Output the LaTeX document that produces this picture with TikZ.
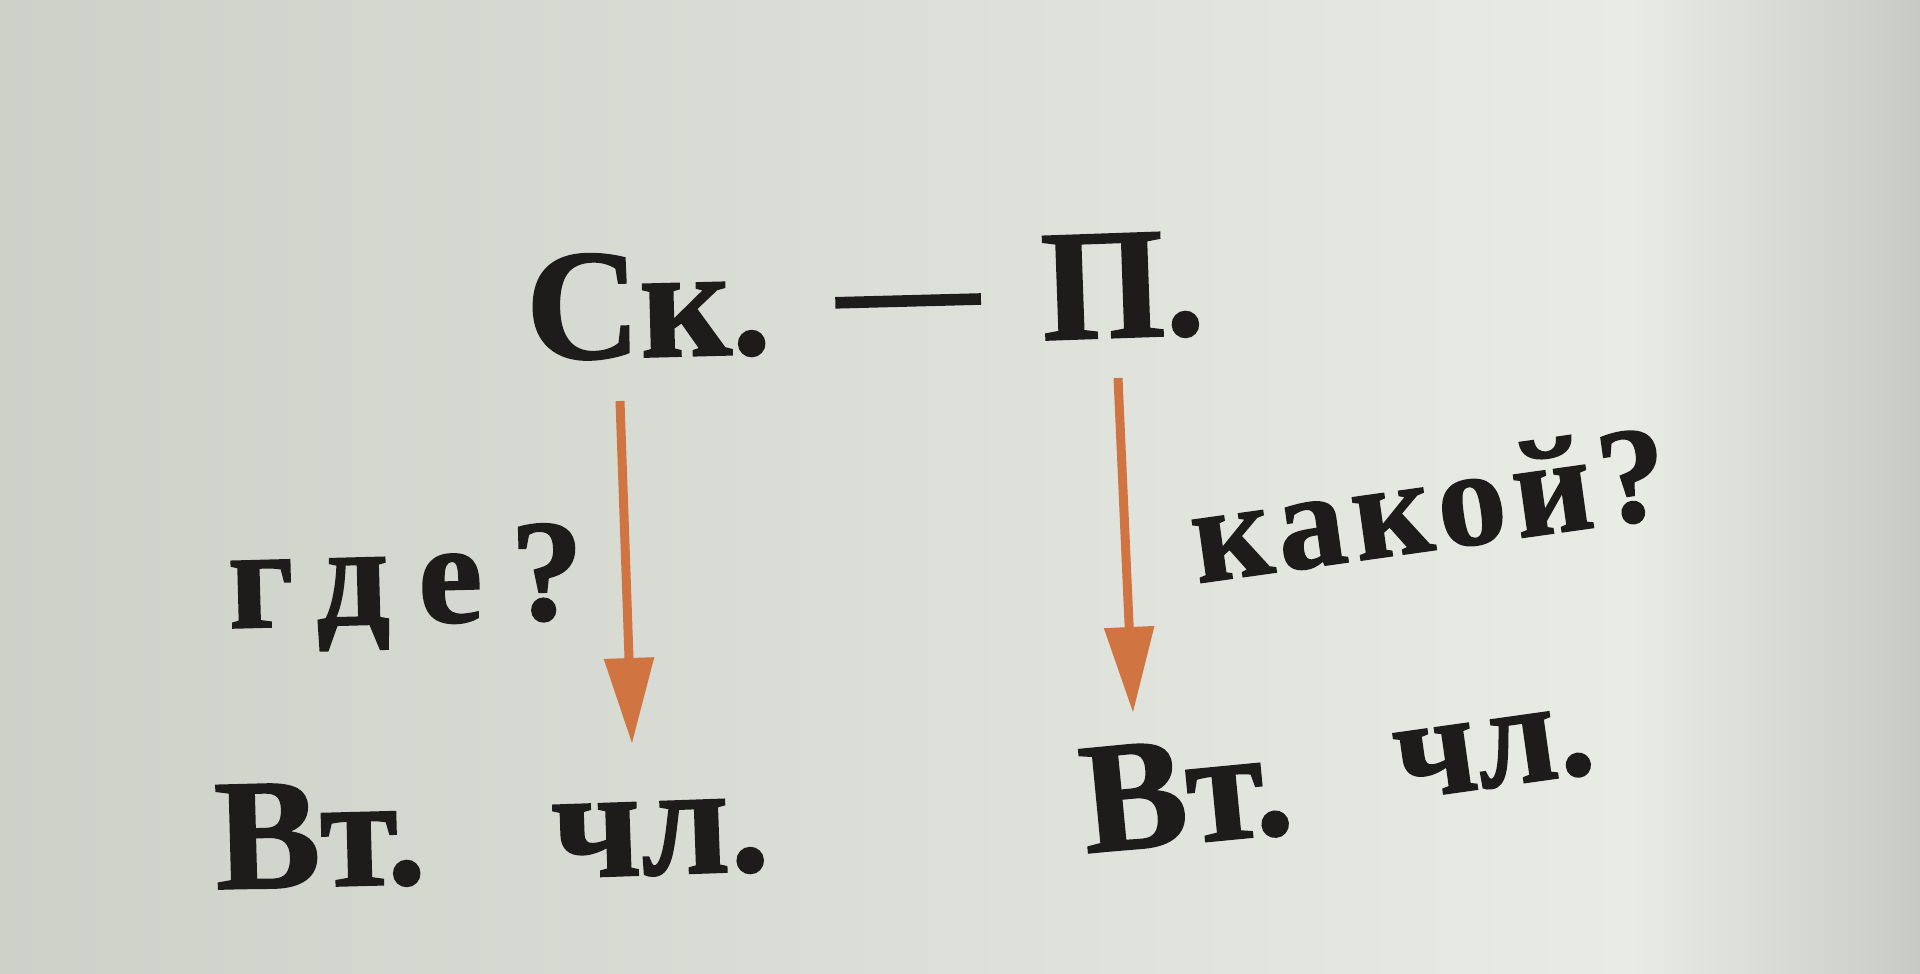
\documentclass[tikz,border=0pt]{standalone}
\usepackage{fontspec}
\setmainfont{Liberation Serif}[BoldFeatures={FakeBold=1.2}]
\usetikzlibrary{arrows.meta}
\definecolor{ink}{RGB}{30,28,26}
\definecolor{arr}{RGB}{208,116,66}
\definecolor{pa}{RGB}{205,209,200}
\definecolor{pb}{RGB}{220,224,216}
\definecolor{pc}{RGB}{233,236,229}
\definecolor{pe}{RGB}{216,219,211}
\definecolor{pd}{RGB}{200,203,195}
\pgfdeclarehorizontalshading{paper}{100bp}{color(0bp)=(pa); color(25bp)=(pa); color(50bp)=(pb); color(67.5bp)=(pc); color(71.5bp)=(pe); color(75bp)=(pd); color(100bp)=(pd)}
\begin{document}
\begin{tikzpicture}[x=1pt,y=-1pt,
  big/.style={font=\bfseries\fontsize{158}{170}\selectfont, text=ink, inner sep=0pt, anchor=base west},
  gdestyle/.style={font=\bfseries\fontsize{145}{160}\selectfont\addfontfeature{LetterSpace=20}, text=ink, inner sep=0pt, anchor=base west},
  kakstyle/.style={font=\bfseries\fontsize{137}{150}\selectfont\addfontfeature{LetterSpace=6}, text=ink, inner sep=0pt, anchor=base west},
  arrowline/.style={draw=arr, line width=9pt, -{Triangle[length=86pt,width=48pt]}}]
\useasboundingbox (0,0) rectangle (1920,974);
\shade[shading=paper] (0,0) rectangle (1920,974);
% top line
\node[big, rotate=1.5] (sk) at (527,360) {Ск.};
\node[big, anchor=base, rotate=1.5, font=\bfseries\fontsize{142}{150}\selectfont] (dash) at (909,334) {—};
\node[big, rotate=2] (p) at (1043,340) {П.};
% questions
\node[gdestyle, rotate=1.5] (gde) at (229,628) {где?};
\node[kakstyle, rotate=8] (kakoy) at (1198,583) {какой?};
% bottom
\node[big, rotate=1.5] (vt1) at (216,889) {Вт.};
\node[big, rotate=2] (chl1) at (553,878) {чл.};
\node[big, rotate=5.5] (vt2) at (1086,853) {Вт.};
\node[big, rotate=8, font=\bfseries\fontsize{145}{160}\selectfont] (chl2) at (1400,800) {чл.};
% arrows
\coordinate (a1s) at (620,401);
\coordinate (a1e) at (632,744);
\coordinate (a2s) at (1118,378);
\coordinate (a2e) at (1133,713);
\draw[arrowline] (a1s) -- (a1e);
\draw[arrowline] (a2s) -- (a2e);
\end{tikzpicture}
\end{document}
